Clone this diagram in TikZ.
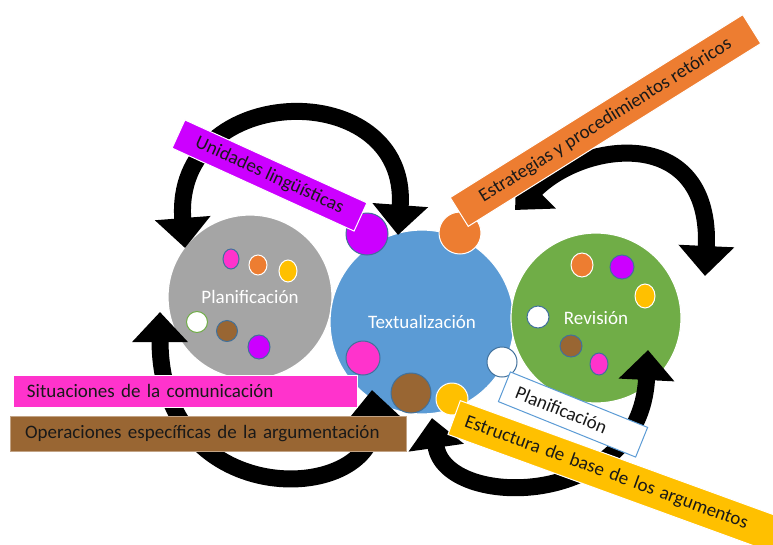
\documentclass[tikz,border=0pt]{standalone}
\usepackage{fontspec}
\setmainfont{Carlito}
\usetikzlibrary{shapes.geometric,arrows.meta}

\definecolor{gris}{HTML}{A5A5A5}
\definecolor{azul}{HTML}{5B9BD5}
\definecolor{verde}{HTML}{70AD47}
\definecolor{naranja}{HTML}{ED7D31}
\definecolor{oro}{HTML}{FFC000}
\definecolor{morado}{HTML}{CC00FF}
\definecolor{rosa}{HTML}{FF33CC}
\definecolor{cafe}{HTML}{996633}
\definecolor{borde}{HTML}{41719C}

\begin{document}
\begin{tikzpicture}[x=1pt, y=-1pt, font=\fontsize{19}{21}\selectfont,
  fase/.style={circle, draw=white, line width=1.2pt, text=white, inner sep=0pt},
  spot/.style 2 args={ellipse, inner sep=0pt, line width=1pt, minimum width=#1, minimum height=#2},
  ciclo/.style={line width=17pt, {Triangle[width=54pt,length=30pt]}-{Triangle[width=54pt,length=30pt]}},
  etiqueta/.style={draw=white, line width=1pt, inner sep=0pt, text=black!90}]
  \useasboundingbox (0,0) rectangle (773,544);
  \fill[white] (0,0) rectangle (773,544);

  % the three phases
  \node[fase, fill=gris, minimum size=164pt] (plan) at (250,297) {Planificación};
  \node[fase, fill=azul, minimum size=184pt] (textu) at (422,322) {Textualización};
  \node[fase, fill=verde, minimum size=170pt] (rev) at (596,318) {Revisión};

  % cycle arrows
  \coordinate (a1) at (185,248); \coordinate (a2) at (398,235);
  \coordinate (b1) at (160,312); \coordinate (b2) at (372,390);
  \coordinate (c1) at (515,210); \coordinate (c2) at (705,276);
  \coordinate (d1) at (648,350); \coordinate (d2) at (432,418);
  \draw[ciclo] (a1) .. controls (172,80) and (410,75) .. (a2);
  \draw[ciclo] (b1) .. controls (160,515) and (380,505) .. (b2);
  \draw[ciclo] (c1) .. controls (585,140) and (712,125) .. (c2);
  \draw[ciclo] (d1) .. controls (640,510) and (445,510) .. (d2);

  % dots of Planificacion
  \node[spot={16pt}{20pt}, fill=rosa, draw=borde] (p1) at (231,259) {};
  \node[spot={18pt}{20pt}, fill=naranja, draw=white] (p2) at (258,265) {};
  \node[spot={18pt}{22pt}, fill=oro, draw=white] (p3) at (288,271) {};
  \node[spot={21pt}{21pt}, fill=white, draw=verde] (p4) at (197,322) {};
  \node[spot={21pt}{21pt}, fill=cafe, draw=borde] (p5) at (227,331) {};
  \node[spot={22pt}{24pt}, fill=morado, draw=borde] (p6) at (259,347) {};

  % dots of Textualizacion
  \node[spot={42pt}{42pt}, fill=morado, draw=borde] (t1) at (367,234) {};
  \node[spot={42pt}{42pt}, fill=naranja, draw=white] (t2) at (460,233) {};
  \node[spot={34pt}{34pt}, fill=rosa, draw=borde] (t3) at (363,358) {};
  \node[spot={40pt}{40pt}, fill=cafe, draw=borde] (t4) at (411,393) {};
  \node[spot={32pt}{32pt}, fill=oro, draw=white] (t5) at (452,399) {};
  \node[spot={30pt}{30pt}, fill=white, draw=borde] (t6) at (502,362) {};

  % dots of Revision
  \node[spot={22pt}{24pt}, fill=naranja, draw=white] (r1) at (582,265) {};
  \node[spot={24pt}{24pt}, fill=morado, draw=borde] (r2) at (622,267) {};
  \node[spot={20pt}{24pt}, fill=oro, draw=white] (r3) at (645,296) {};
  \node[spot={22pt}{22pt}, fill=white, draw=borde] (r4) at (538,317) {};
  \node[spot={22pt}{22pt}, fill=cafe, draw=borde] (r5) at (571,346) {};
  \node[spot={18pt}{22pt}, fill=rosa, draw=borde] (r6) at (599,364) {};

  % labels
  \node[etiqueta, fill=morado, rotate=-24.5, minimum width=200pt, minimum height=31pt] (unid) at (269.5,175.5) {Unidades lingüísticas};
  \node[etiqueta, fill=naranja, rotate=32, minimum width=345pt, minimum height=34pt] (estr) at (605.5,120.5) {Estrategias y procedimientos retóricos};
  \node[etiqueta, fill=rosa, minimum height=32pt, text width=316pt, inner xsep=14pt, align=left] (sit) at (185,391) {Situaciones de la comunicación};
  \node[etiqueta, fill=cafe, draw=cafe!60!white, minimum height=35pt, text width=366pt, inner xsep=15pt, align=left] (oper) at (208,433.5) {Operaciones específicas de la argumentación};
  \node[etiqueta, fill=oro, rotate=-20, anchor=north west, minimum height=36pt, text width=340pt, inner xsep=12pt, align=left] (base) at (460,400) {Estructura de base de los argumentos};
  \node[etiqueta, fill=white, draw=azul, rotate=-22, minimum height=32pt, text width=122pt, inner xsep=13pt, align=left] (plan2) at (573,414.5) {Planificación};
\end{tikzpicture}
\end{document}
